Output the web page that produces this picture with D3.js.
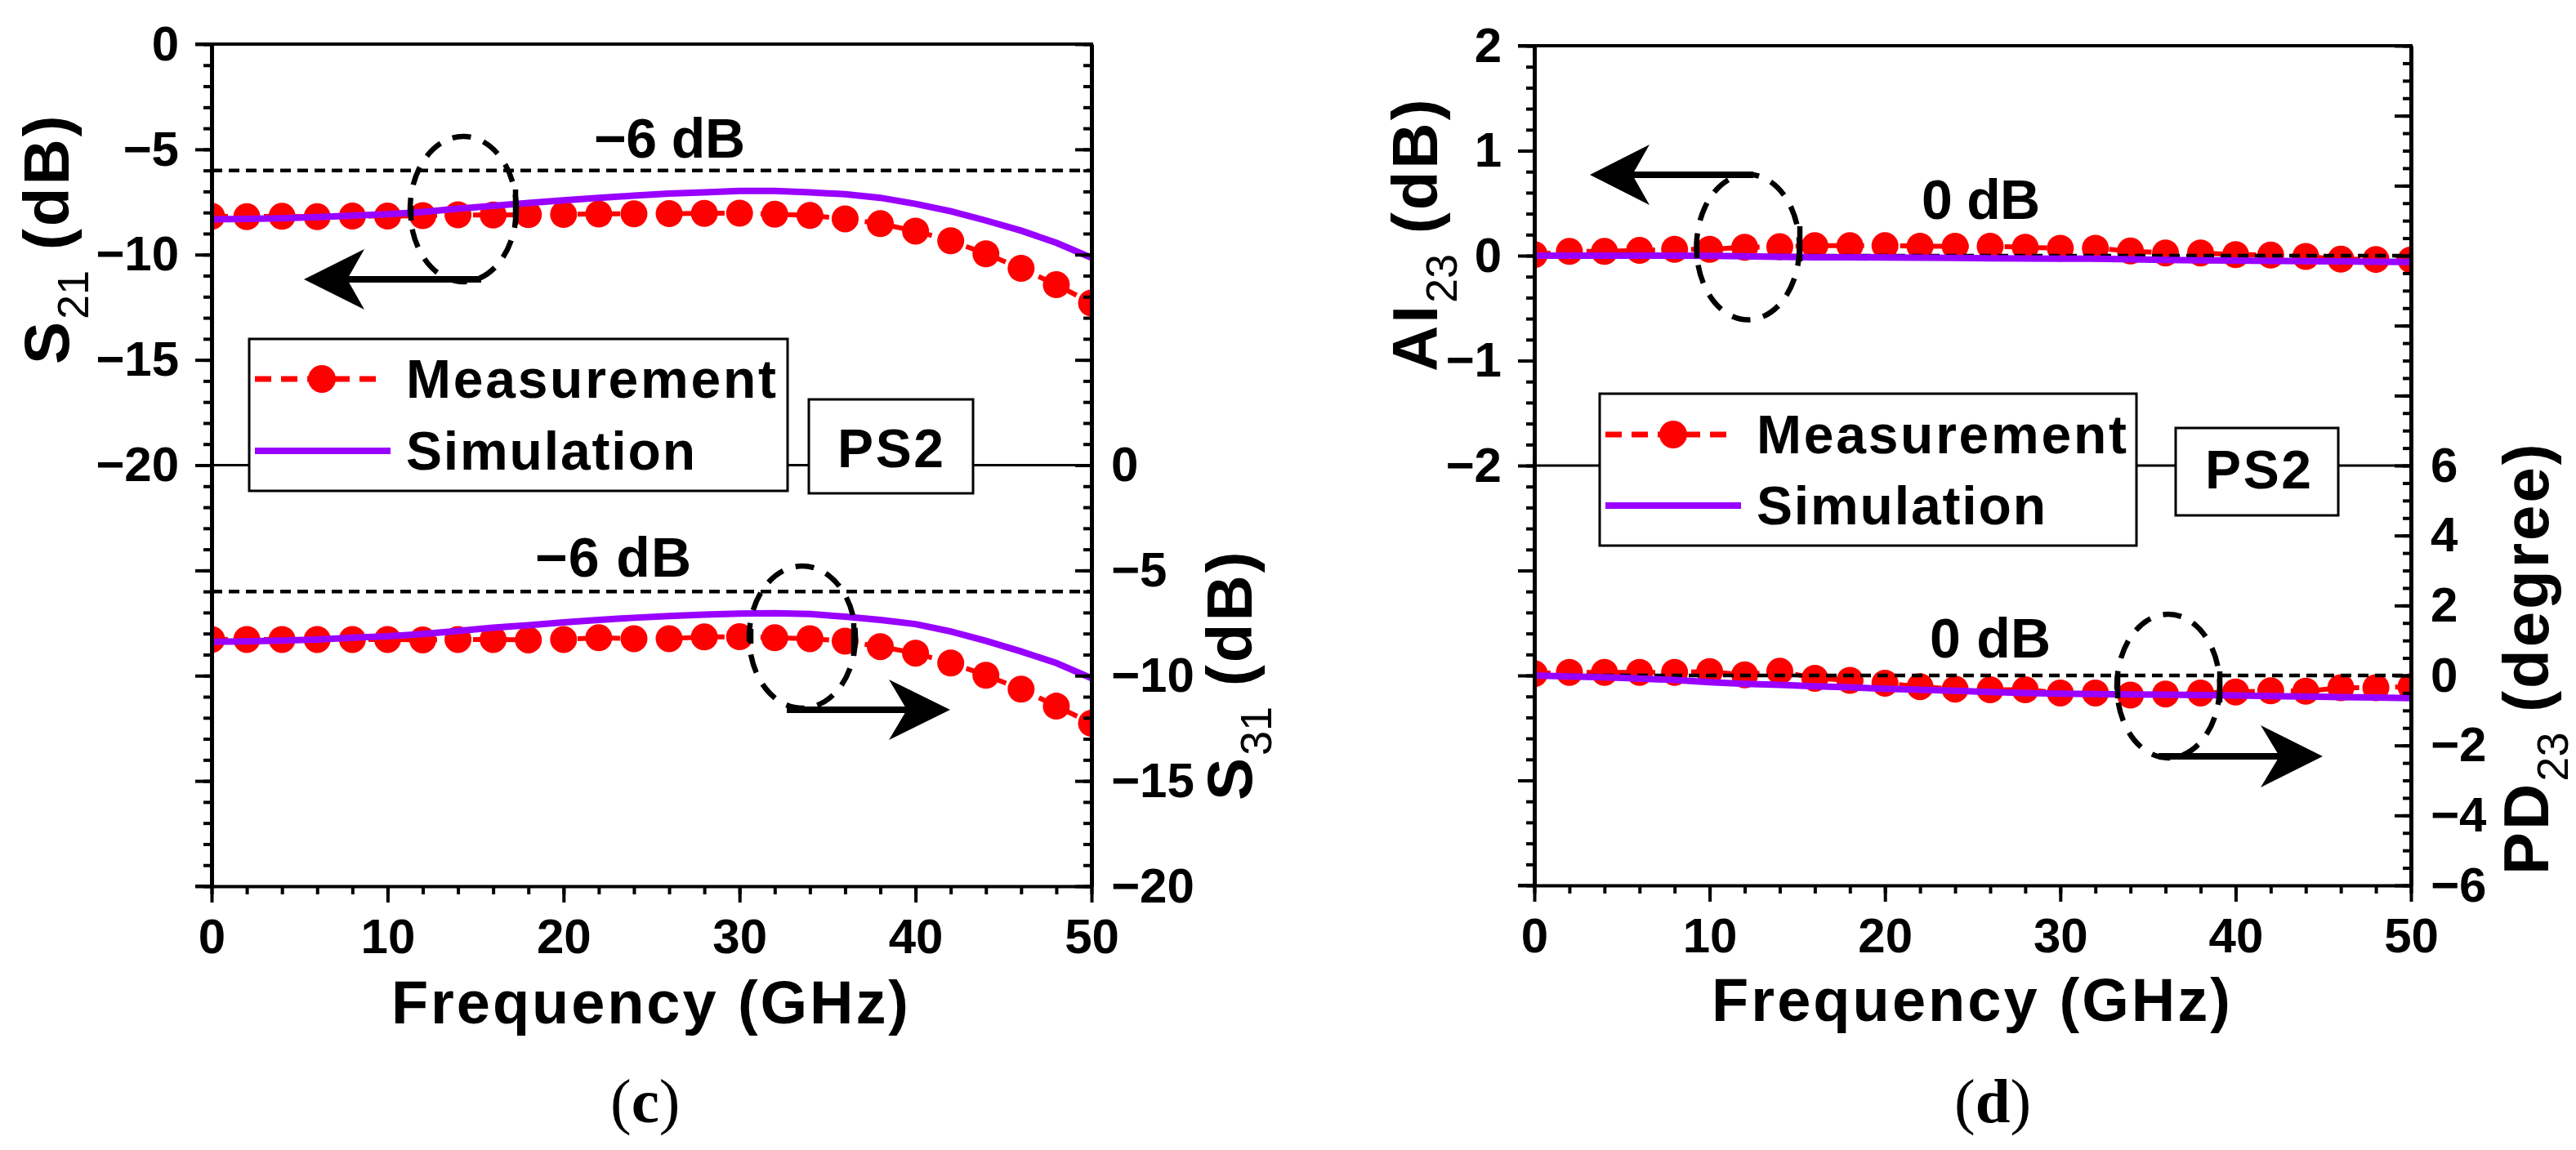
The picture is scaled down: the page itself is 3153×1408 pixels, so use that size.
<!DOCTYPE html>
<html>
<head>
<meta charset="utf-8">
<script src="https://cdn.jsdelivr.net/npm/d3@7"></script>
<style>
  body { margin: 0; background: #fff; }
  text { font-family: "Liberation Sans", Arial, sans-serif; font-weight: bold; fill: #000; }
</style>
</head>
<body>
<script>
// values
const freq = [0, 2, 4, 6, 8, 10, 12, 14, 16, 18, 20, 22, 24, 26, 28, 30, 32, 34, 36, 38, 40, 42, 44, 46, 48, 50];

const s21Meas = [-8.18, -8.2, -8.18, -8.2, -8.17, -8.17, -8.15, -8.11, -8.12, -8.1, -8.09, -8.07, -8.06, -8.05, -8.04, -8.03, -8.08, -8.14, -8.3, -8.53, -8.88, -9.34, -9.96, -10.65, -11.43, -12.3];
const s21Sim = [-8.32, -8.3, -8.27, -8.22, -8.15, -8.08, -7.97, -7.82, -7.68, -7.55, -7.42, -7.3, -7.2, -7.1, -7.04, -6.97, -6.97, -7.04, -7.13, -7.3, -7.59, -7.94, -8.38, -8.86, -9.44, -10.15];
const s31Meas = [-8.28, -8.28, -8.28, -8.28, -8.28, -8.28, -8.3, -8.28, -8.28, -8.3, -8.28, -8.2, -8.24, -8.24, -8.16, -8.15, -8.2, -8.24, -8.36, -8.62, -8.93, -9.4, -9.98, -10.64, -11.45, -12.26];
const s31Sim = [-8.39, -8.37, -8.33, -8.28, -8.2, -8.13, -8.02, -7.88, -7.72, -7.6, -7.47, -7.35, -7.25, -7.17, -7.1, -7.05, -7.03, -7.07, -7.2, -7.35, -7.55, -7.9, -8.35, -8.85, -9.4, -10.12];

const ai23Meas = [0.01, 0.04, 0.04, 0.05, 0.06, 0.06, 0.08, 0.085, 0.095, 0.095, 0.095, 0.09, 0.09, 0.09, 0.08, 0.07, 0.07, 0.044, 0.026, 0.026, 0.01, 0.005, -0.008, -0.034, -0.036, -0.04];
const ai23Sim = [0, 0, 0, 0, 0, -0.002, -0.005, -0.012, -0.015, -0.015, -0.018, -0.02, -0.022, -0.025, -0.028, -0.03, -0.03, -0.035, -0.04, -0.045, -0.047, -0.05, -0.052, -0.055, -0.058, -0.06];
const pd23Meas = [0.05, 0.09, 0.09, 0.09, 0.09, 0.11, 0.02, 0.12, -0.08, -0.14, -0.22, -0.32, -0.39, -0.41, -0.41, -0.5, -0.5, -0.56, -0.53, -0.5, -0.47, -0.44, -0.45, -0.35, -0.35, -0.32];
const pd23Sim = [0, -0.03, -0.05, -0.09, -0.13, -0.19, -0.24, -0.27, -0.31, -0.34, -0.38, -0.41, -0.44, -0.47, -0.5, -0.52, -0.53, -0.54, -0.55, -0.56, -0.57, -0.59, -0.6, -0.62, -0.63, -0.65];

const xTickLabels = [0, 10, 20, 30, 40, 50];
const s21TickLabels = [0, -5, -10, -15, -20];
const s31TickLabels = [0, -5, -10, -15, -20];
const ai23TickLabels = [2, 1, 0, -1, -2];
const pd23TickLabels = [6, 4, 2, 0, -2, -4, -6];

const RED = '#ff0000', PURPLE = '#9900ff';
const MEAS_DASH = '20,12';

const svg = d3.select('body').append('svg')
  .attr('width', 3153).attr('height', 1408)
  .style('display', 'block');

const fmt = d => String(d).replace('-', '\u2212');

function yAxis(g, scale, side, x, major, minor, labels) {
  const maker = side === 'left' ? d3.axisLeft : d3.axisRight;
  const k = side === 'left' ? 1 : -1;  // both sides have their ticks pointing left
  g.append('g').attr('transform', `translate(${x},0)`)
    .call(maker(scale).tickValues(minor).tickSize(10 * k).tickSizeOuter(0).tickFormat(''))
    .call(a => a.selectAll('line').attr('stroke-width', 4));
  g.append('g').attr('transform', `translate(${x},0)`)
    .call(maker(scale).tickValues(major).tickSize(20 * k).tickSizeOuter(0).tickPadding(side === 'left' ? 20 : 24)
      .tickFormat(d => labels.includes(d) ? fmt(d) : ''))
    .call(a => {
      a.selectAll('line').attr('stroke-width', 4);
      a.select('.domain').attr('stroke-width', 5);
      a.selectAll('text').attr('font-size', 60);
      a.attr('font-family', null);
    });
}

function ellipseMark(g, e) {
  g.append('ellipse')
    .attr('cx', e.cx).attr('cy', e.cy).attr('rx', e.rx).attr('ry', e.ry)
    .attr('fill', 'none').attr('stroke', '#000').attr('stroke-width', 6.5)
    .attr('stroke-dasharray', '23,16');
  e.bars.forEach(b => {
    g.append('line').attr('x1', b[0]).attr('x2', b[0]).attr('y1', b[1]).attr('y2', b[2])
      .attr('stroke', '#000').attr('stroke-width', 6.5);
  });
}

function arrowMark(g, a) {
  g.append('line').attr('x1', a.from).attr('x2', a.notch).attr('y1', a.y).attr('y2', a.y)
    .attr('stroke', '#000').attr('stroke-width', 8);
  g.append('path')
    .attr('d', `M${a.tip},${a.y}L${a.back},${a.y - a.h}L${a.notch},${a.y}L${a.back},${a.y + a.h}Z`)
    .attr('fill', '#000');
}

function axisTitle(g, x, y, parts, subDy) {
  const t = g.append('text')
    .attr('transform', `translate(${x},${y}) rotate(-90)`)
    .attr('font-size', 78)
    .attr('letter-spacing', parts.spacing);
  t.append('tspan').text(parts.head);
  t.append('tspan').attr('font-size', 54).attr('font-weight', 'normal').attr('dy', subDy).attr('letter-spacing', 0).text(parts.sub);
  t.append('tspan').attr('dy', -subDy).text(parts.tail);
}

function legendBox(g, b) {
  g.append('rect').attr('x', b.x0).attr('y', b.y0).attr('width', b.x1 - b.x0).attr('height', b.y1 - b.y0)
    .attr('fill', '#fff').attr('stroke', '#000').attr('stroke-width', 3);
}

function panel(p) {
  const g = svg.append('g');
  const x = d3.scaleLinear().domain([0, 50]).range([p.left, p.right]);
  const yL = d3.scaleLinear().domain(p.leftDomain).range([p.top, p.bottom]);
  const yR = d3.scaleLinear().domain(p.rightDomain).range([p.top, p.bottom]);
  const clipId = 'clip' + p.left;
  g.append('clipPath').attr('id', clipId).append('rect')
    .attr('x', p.left).attr('y', p.top).attr('width', p.right - p.left).attr('height', p.bottom - p.top);
  const plot = g.append('g').attr('clip-path', `url(#${clipId})`);

  // middle separator
  g.append('line').attr('x1', p.left).attr('x2', p.right)
    .attr('y1', yL(p.midValue)).attr('y2', yL(p.midValue))
    .attr('stroke', '#000').attr('stroke-width', 3);

  const series = [
    { y: yL, meas: p.measTop, sim: p.simTop, ref: p.refTop },
    { y: yR, meas: p.measBottom, sim: p.simBottom, ref: p.refBottom }
  ];
  series.forEach(s => {
    const line = d3.line().x((d, i) => x(freq[i])).y(d => s.y(d));
    plot.append('path').datum(s.meas).attr('d', line)
      .attr('fill', 'none').attr('stroke', RED).attr('stroke-width', 6)
      .attr('stroke-dasharray', MEAS_DASH);
    plot.selectAll(null).data(s.meas).enter().append('circle')
      .attr('cx', (d, i) => x(freq[i])).attr('cy', d => s.y(d)).attr('r', 16.5)
      .attr('fill', RED);
    plot.append('line').attr('x1', p.left).attr('x2', p.right)
      .attr('y1', s.y(s.ref)).attr('y2', s.y(s.ref))
      .attr('stroke', '#000').attr('stroke-width', 4.5).attr('stroke-dasharray', '13,8');
    plot.append('path').datum(s.sim).attr('d', line)
      .attr('fill', 'none').attr('stroke', PURPLE).attr('stroke-width', 8);
  });

  // axes
  yAxis(g, yL, 'left', p.left, p.leftMajor, p.leftMinor, p.leftLabels);
  yAxis(g, yR, 'right', p.right, p.rightMajor, p.rightMinor, p.rightLabels);
  g.append('line').attr('x1', p.left - 20).attr('x2', p.right + 2).attr('y1', p.top).attr('y2', p.top)
    .attr('stroke', '#000').attr('stroke-width', 4);
  const axisY = g.append('g').attr('transform', `translate(0,${p.bottom})`);
  axisY.append('g')
    .call(d3.axisBottom(x).tickValues(freq).tickSize(10).tickSizeOuter(0).tickFormat(''))
    .call(a => a.selectAll('line').attr('stroke-width', 4));
  axisY.append('g')
    .call(d3.axisBottom(x).tickValues(xTickLabels).tickSize(20).tickSizeOuter(0).tickPadding(19))
    .call(a => {
      a.selectAll('line').attr('stroke-width', 4);
      a.select('.domain').attr('stroke-width', 4);
      a.selectAll('text').attr('font-size', 60);
      a.attr('font-family', null);
    });
  g.append('line').attr('x1', p.left - 20).attr('x2', p.left).attr('y1', p.bottom).attr('y2', p.bottom)
    .attr('stroke', '#000').attr('stroke-width', 4);

  // titles
  g.append('text').attr('x', p.xTitle.x).attr('y', p.xTitle.y).attr('font-size', 74)
    .attr('textLength', p.xTitle.w).attr('lengthAdjust', 'spacing').text('Frequency (GHz)');
  axisTitle(g, p.yTitleL.x, p.yTitleL.y, p.yTitleL, 24);
  axisTitle(g, p.yTitleR.x, p.yTitleR.y, p.yTitleR, 24);

  // reference labels
  p.refLabels.forEach(r => {
    g.append('text').attr('x', r.x).attr('y', r.y).attr('font-size', 68)
      .attr('textLength', r.w).attr('lengthAdjust', 'spacing').text(r.text);
  });

  // callouts
  p.ellipses.forEach(e => ellipseMark(g, e));
  p.arrows.forEach(a => arrowMark(g, a));

  // legend
  const l = p.legend;
  legendBox(g, l);
  g.append('line').attr('x1', l.lineX0).attr('x2', l.measX1).attr('y1', l.measY).attr('y2', l.measY)
    .attr('stroke', RED).attr('stroke-width', 7).attr('stroke-dasharray', MEAS_DASH);
  g.append('circle').attr('cx', l.markX).attr('cy', l.measY).attr('r', 17).attr('fill', RED);
  g.append('line').attr('x1', l.lineX0).attr('x2', l.simX1).attr('y1', l.simY).attr('y2', l.simY)
    .attr('stroke', PURPLE).attr('stroke-width', 8);
  g.append('text').attr('x', l.textX).attr('y', l.measBase).attr('font-size', 66)
    .attr('textLength', 453).attr('lengthAdjust', 'spacing').text('Measurement');
  g.append('text').attr('x', l.textX).attr('y', l.simBase).attr('font-size', 66)
    .attr('textLength', 354).attr('lengthAdjust', 'spacing').text('Simulation');

  legendBox(g, p.tag);
  g.append('text').attr('x', p.tag.textX).attr('y', p.tag.base).attr('font-size', 66)
    .attr('textLength', 130).attr('lengthAdjust', 'spacing').text('PS2');

  // caption
  const cap = svg.append('text').attr('x', p.caption.x).attr('y', 1374)
    .style('font-family', '"Liberation Serif", serif')
    .style('font-weight', 'normal').attr('font-size', 77);
  cap.append('tspan').text('(');
  cap.append('tspan').style('font-weight', 'bold').text(p.caption.text);
  cap.append('tspan').text(')');
}

panel({
  left: 259, right: 1336, top: 54, bottom: 1085,
  leftDomain: [0, -40], rightDomain: [20, -20], midValue: -20,
  measTop: s21Meas, simTop: s21Sim, refTop: -6,
  measBottom: s31Meas, simBottom: s31Sim, refBottom: -6,
  leftMajor: d3.range(0, -41, -5), leftMinor: d3.range(0, -41, -1), leftLabels: s21TickLabels,
  rightMajor: d3.range(20, -21, -5), rightMinor: d3.range(20, -21, -1), rightLabels: s31TickLabels,
  xTitle: { x: 479, y: 1253, w: 633 },
  yTitleL: { x: 84, y: 446, head: 'S', sub: '21', tail: ' (dB)', spacing: 3 },
  yTitleR: { x: 1532, y: 980, head: 'S', sub: '31', tail: ' (dB)', spacing: 3 },
  refLabels: [
    { x: 727, y: 193, w: 185, text: '\u22126 dB' },
    { x: 655, y: 706, w: 191, text: '\u22126 dB' }
  ],
  ellipses: [
    { cx: 567, cy: 256, rx: 65, ry: 89, bars: [[503, 252, 270], [631, 232, 275]] },
    { cx: 982, cy: 780, rx: 65, ry: 87, bars: [[919, 770, 788], [1045, 763, 803]] }
  ],
  arrows: [
    { from: 589, tip: 372, back: 446, notch: 425, y: 342, h: 37 },
    { from: 963, tip: 1163, back: 1088, notch: 1110, y: 869, h: 37 }
  ],
  legend: {
    x0: 305, x1: 964, y0: 415, y1: 601,
    lineX0: 312, measX1: 461, simX1: 478, markX: 394, measY: 464, simY: 552,
    textX: 497, measBase: 487, simBase: 575
  },
  tag: { x0: 990, x1: 1191, y0: 489, y1: 604, textX: 1025, base: 572 },
  caption: { x: 747, text: 'c' }
});

panel({
  left: 1878, right: 2951, top: 56, bottom: 1084,
  leftDomain: [2, -6], rightDomain: [18, -6], midValue: -2,
  measTop: ai23Meas, simTop: ai23Sim, refTop: 0,
  measBottom: pd23Meas, simBottom: pd23Sim, refBottom: 0,
  leftMajor: d3.range(2, -7, -1), leftMinor: d3.range(10, -31, -1).map(d => d / 5), leftLabels: ai23TickLabels,
  rightMajor: d3.range(18, -7, -2), rightMinor: d3.range(18, -6.5, -0.5), rightLabels: pd23TickLabels,
  xTitle: { x: 2095, y: 1250, w: 635 },
  yTitleL: { x: 1759, y: 455, head: 'AI', sub: '23', tail: ' (dB)', spacing: 3 },
  yTitleR: { x: 3119, y: 1071, head: 'PD', sub: '23', tail: ' (degree)', spacing: 3 },
  refLabels: [
    { x: 2352, y: 268, w: 145, text: '0 dB' },
    { x: 2362, y: 805, w: 148, text: '0 dB' }
  ],
  ellipses: [
    { cx: 2139.5, cy: 302.5, rx: 63, ry: 89, bars: [[2077, 296, 316], [2203, 277, 320]] },
    { cx: 2654, cy: 840, rx: 63, ry: 88, bars: [[2592, 828, 855], [2717, 822, 860]] }
  ],
  arrows: [
    { from: 2146, tip: 1946, back: 2019, notch: 1998, y: 214, h: 37 },
    { from: 2642, tip: 2843, back: 2767, notch: 2790, y: 926, h: 38 }
  ],
  legend: {
    x0: 1958, x1: 2615, y0: 482, y1: 668,
    lineX0: 1965, measX1: 2113, simX1: 2131, markX: 2048, measY: 532, simY: 619,
    textX: 2150, measBase: 555, simBase: 642
  },
  tag: { x0: 2663, x1: 2862, y0: 524, y1: 631, textX: 2699, base: 598 },
  caption: { x: 2392, text: 'd' }
});
</script>
</body>
</html>
